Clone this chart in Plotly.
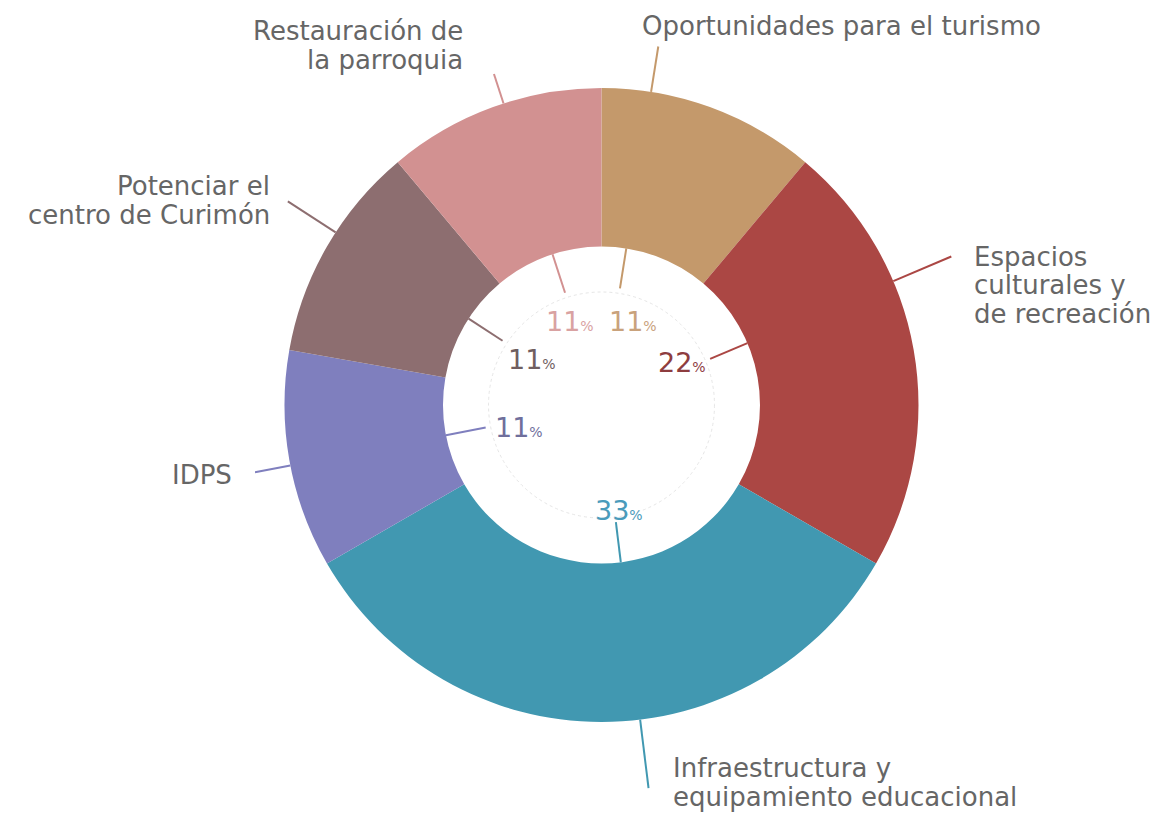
import math
import plotly.graph_objects as go

# ---------------- data ----------------
categories = [
    "Oportunidades para el turismo",
    "Espacios culturales y de recreación",
    "Infraestructura y equipamiento educacional",
    "IDPS",
    "Potenciar el centro de Curimón",
    "Restauración de la parroquia",
]
percent = [11, 22, 33, 11, 11, 11]
label_lines = [
    ["Oportunidades para el turismo"],
    ["Espacios", "culturales y", "de recreación"],
    ["Infraestructura y", "equipamiento educacional"],
    ["IDPS"],
    ["Potenciar el", "centro de Curimón"],
    ["Restauración de", "la parroquia"],
]

# ---------------- style / layout ----------------
colors = ["#C4996B", "#AB4744", "#4198B1", "#7F7FBE", "#8D6E70", "#D29191"]
pct_colors = ["#C9A27C", "#8E3D3F", "#4A9BBB", "#6F6F9C", "#6F5E60", "#D9A2A2"]
text_color = "#666666"
FONT = "DejaVu Sans"

W, H = 1161, 814
OFF = 8  # page body margin in the browser
CX, CY, R_OUT = 601.5, 405, 317
HOLE = 0.5
R_IN = R_OUT * HOLE
tick_shift = [-11, -13, -7, -1, 3, 2]          # degrees, tick offset from slice middle
outer_tick_end = [363, 380, 386, 353, 374, 348]  # radius where outer ticks end
inner_tick_end = 118
outer_label_pos = [(643, 26, "left"), (975, 257, "left"), (674, 768, "left"),
                   (231, 475, "right"), (269, 186, "right"), (462, 31, "right")]
LINE_H = 28.5
LABEL_SIZE = 26
PCT_SIZE = 27
PCT_SIGN_SIZE = 14
pct_label_pos = [(633, 321), (682, 362), (619, 510), (519, 427), (532, 359), (570, 321)]


def px(x):
    return (x - OFF) / W


def py(y):
    return 1 - (y - OFF) / H


def pt(r, ang):
    a = math.radians(ang)
    return CX + r * math.sin(a), CY - r * math.cos(a)


fig = go.Figure(
    go.Pie(
        labels=categories,
        values=percent,
        hole=HOLE,
        sort=False,
        direction="clockwise",
        rotation=0,
        marker=dict(colors=colors, line=dict(width=0)),
        textinfo="none",
        hoverinfo="label+percent",
        showlegend=False,
        domain=dict(x=[px(CX - R_OUT), px(CX + R_OUT)],
                    y=[py(CY + R_OUT), py(CY - R_OUT)]),
    )
)

total = sum(percent)
shapes = []
annotations = []
cum = 0
for i, p in enumerate(percent):
    start = cum / total * 360
    cum += p
    mid = start + p / total * 180
    ang = mid + tick_shift[i]
    # outer tick
    x0, y0 = pt(R_OUT, ang)
    x1, y1 = pt(outer_tick_end[i], ang)
    shapes.append(dict(type="line", xref="paper", yref="paper",
                       x0=px(x0), y0=py(y0), x1=px(x1), y1=py(y1),
                       line=dict(color=colors[i], width=2)))
    # inner tick
    x0, y0 = pt(R_IN, ang)
    x1, y1 = pt(inner_tick_end, ang)
    shapes.append(dict(type="line", xref="paper", yref="paper",
                       x0=px(x0), y0=py(y0), x1=px(x1), y1=py(y1),
                       line=dict(color=colors[i], width=2)))
    # outer category label, one annotation per line
    lx, ly, anchor = outer_label_pos[i]
    for j, line in enumerate(label_lines[i]):
        annotations.append(dict(
            x=px(lx), y=py(ly + j * LINE_H), xref="paper", yref="paper",
            text=line, showarrow=False, xanchor=anchor, yanchor="middle",
            xshift=-3 if anchor == "left" else 3,
            font=dict(family=FONT, size=LABEL_SIZE, color=text_color)))
    # percentage label
    qx, qy = pct_label_pos[i]
    annotations.append(dict(
        x=px(qx), y=py(qy), xref="paper", yref="paper",
        text=f"{p}<span style='font-size:{PCT_SIGN_SIZE}px'>%</span>",
        showarrow=False, xanchor="center", yanchor="middle",
        font=dict(family=FONT, size=PCT_SIZE, color=pct_colors[i])))

# faint dotted inner circle
R_DOT = 113
shapes.append(dict(type="circle", xref="paper", yref="paper",
                   x0=px(CX - R_DOT), x1=px(CX + R_DOT),
                   y0=py(CY + R_DOT), y1=py(CY - R_DOT),
                   line=dict(color="#e6e6e6", width=1, dash="dot")))

fig.update_layout(
    width=W, height=H,
    margin=dict(l=0, r=0, t=0, b=0),
    paper_bgcolor="white", plot_bgcolor="white",
    shapes=shapes, annotations=annotations,
    font=dict(family=FONT),
)

fig.write_html("out.html")
